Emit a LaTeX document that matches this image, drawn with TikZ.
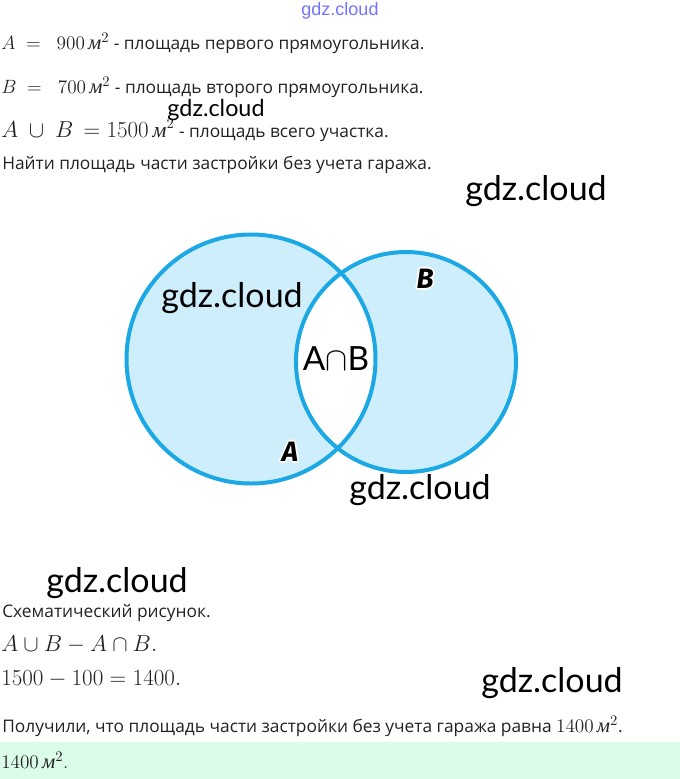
\documentclass[tikz,border=0pt]{standalone}
\usepackage{amsmath}
\usepackage{fontspec}
\setmainfont{Open Sans}
\newfontfamily\wmfont{Lato}
\newfontfamily\webfont{Liberation Sans}
\newfontfamily\cyrit{Liberation Serif}
\newfontfamily\labfont{Fira Sans}
\definecolor{vennline}{RGB}{28,168,228}
\definecolor{vennfill}{RGB}{205,238,250}
\definecolor{answerbg}{RGB}{220,252,234}
\definecolor{ink}{RGB}{34,34,34}
\newcommand{\sqm}{\,\mbox{\cyrit\itshape м}^{2}}
\newcommand{\mathsz}{\fontsize{15.5}{18}\selectfont}
\newcommand{\mathbig}{\fontsize{17.3}{20}\selectfont}

\begin{document}
\begin{tikzpicture}[x=0.75pt, y=-0.75pt,
    txt/.style={anchor=base west, inner sep=0pt, color=ink,
                font=\fontsize{13}{16}\selectfont},
    mth/.style={txt, font=\mathbig},
    wmark/.style={inner sep=0pt, font=\wmfont\fontsize{25.5}{30}\selectfont},
    venn/.style={draw=vennline, line width=3pt},
    setlab/.style={inner sep=0pt, font=\labfont\bfseries\itshape\fontsize{21}{24}\selectfont}]
  \useasboundingbox (0,0) rectangle (680,779);
  % answer strip
  \fill[answerbg] (0,742) rectangle (680,779);
  % statement
  \node[txt] (l1) at (1,49)
    {{\mathsz$A \ = \ \ 900\sqm$} - площадь первого прямоугольника.};
  \node[txt] (l2) at (1,93)
    {{\mathsz$B \ = \ \ 700\sqm$} - площадь второго прямоугольника.};
  \node[txt] (l3) at (1,137)
    {{\fontsize{16.3}{19}\selectfont$A \ \cup \ B \, = 1500\sqm$} - площадь всего участка.};
  \node[txt] (l4) at (2,169) {Найти площадь части застройки без учета гаража.};
  % venn diagram
  \coordinate (cA) at (251,359);
  \coordinate (cB) at (406,362);
  \fill[vennfill] (cA) circle[radius=124.5];
  \fill[vennfill] (cB) circle[radius=110];
  \begin{scope}
    \clip (cA) circle[radius=124.5];
    \fill[white] (cB) circle[radius=110];
  \end{scope}
  \draw[venn] (cA) circle[radius=124.5];
  \draw[venn] (cB) circle[radius=110];
  \node[inner sep=0pt, font=\wmfont\fontsize{25}{30}\selectfont] (AB) at (336,359) {A$\cap$B};
  \foreach \a in {0,45,...,315}
    \node[setlab, white, shift={(\a:1.8)}] (hB\a) at (425,279) {B};
  \node[setlab] (labB) at (425,279) {B};
  \foreach \a in {0,45,...,315}
    \node[setlab, white, shift={(\a:1.8)}] (hA\a) at (290,452) {A};
  \node[setlab] (labA) at (290,452) {A};
  % solution
  \node[txt] (s1) at (2,617) {Схематический рисунок.};
  \node[mth] (s2) at (1,651) {$A\cup B - A\cap B.$};
  \node[mth] (s3) at (1,685) {$1500 - 100 = 1400.$};
  \node[txt] (s4) at (2,732)
    {Получили, что площадь части застройки без учета гаража равна {\mathsz$1400\sqm$}.};
  \node[txt, font=\mathsz] (ans) at (1,768) {$1400\sqm.$};
  % watermarks
  \node[inner sep=0pt, color=blue!55!white, font=\webfont\fontsize{13.5}{16}\selectfont] (w0) at (340,11) {gdz.cloud};
  \node[wmark, font=\wmfont\fontsize{17.5}{21}\selectfont] (w1) at (216,110) {gdz.cloud};
  \node[wmark] (w2) at (536,191) {gdz.cloud};
  \node[wmark] (w3) at (232,298) {gdz.cloud};
  \node[wmark] (w4) at (420,490) {gdz.cloud};
  \node[wmark] (w5) at (117,583) {gdz.cloud};
  \node[wmark] (w6) at (552,683) {gdz.cloud};
\end{tikzpicture}
\end{document}
